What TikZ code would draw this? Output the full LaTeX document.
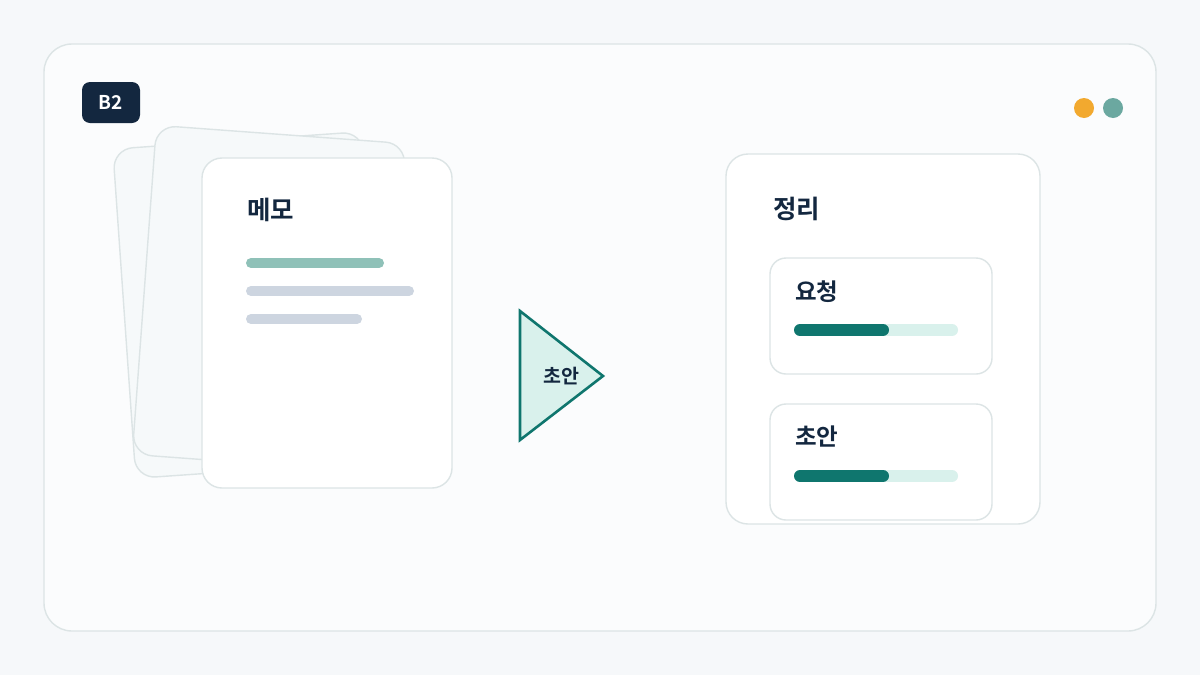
\documentclass[tikz,border=0pt]{standalone}
\usepackage{fontspec}
\setmainfont{Noto Sans CJK KR}
\newfontfamily\krbold{Noto Sans CJK KR Bold}
\definecolor{bgc}{HTML}{F6F8FA}
\definecolor{framefill}{HTML}{FBFCFD}
\definecolor{edge}{HTML}{DCE4E5}
\definecolor{navy}{HTML}{13273F}
\definecolor{tealdark}{HTML}{0F766E}
\definecolor{teallight}{HTML}{D9F1EC}
\definecolor{tealmid}{HTML}{8FC1B8}
\definecolor{grayline}{HTML}{CDD5E0}
\definecolor{orangedot}{HTML}{F2A92F}
\definecolor{tealdot}{HTML}{6BA8A0}
\definecolor{backcard}{HTML}{F6F9FA}
\tikzset{
  card/.style={draw=edge, line width=1.4pt, rounded corners=20pt, fill=white, minimum width=250pt, minimum height=330pt, inner sep=0pt},
  bcard/.style={card, fill=backcard},
  subcard/.style={draw=edge, line width=1.4pt, rounded corners=16pt, fill=white},
  title/.style={text=navy, font=\krbold\fontsize{25.5}{28}\selectfont, anchor=west, inner sep=0pt},
  small/.style={text=navy, font=\krbold\fontsize{23.5}{26}\selectfont, anchor=west, inner sep=0pt},
  bar/.style={line width=10pt, line cap=round},
  pbar/.style={line width=12pt, line cap=round}
}
\begin{document}
\begin{tikzpicture}[x=1pt,y=-1pt]
\fill[bgc] (0,0) rectangle (1200,675);
\useasboundingbox (0,0) rectangle (1200,675);
\draw[edge, fill=framefill, line width=1.4pt, rounded corners=28pt] (44,44) rectangle (1156,631);
% badge
\node[fill=navy, rounded corners=8pt, minimum width=58pt, minimum height=41pt, inner sep=0pt, text=white, font=\krbold\fontsize{19}{22}\selectfont] (badge) at (111,102.5) {B2};
% dots
\fill[orangedot] (1084,108) circle (10pt) coordinate (dotA);
\fill[tealdot] (1113,108) circle (10pt) coordinate (dotB);
% stack
\node[bcard, rotate=4] (back1) at (249,305) {};
\node[bcard, rotate=-4.2] (back2) at (269,299) {};
\node[card] (memo) at (327,323) {};
\node[title] (memot) at (247,210) {메모};
\draw[bar, tealmid] (251,263) -- (379,263);
\draw[bar, grayline] (251,291) -- (409,291);
\draw[bar, grayline] (251,319) -- (357,319);
% triangle
\coordinate (ta) at (520,311);
\coordinate (tb) at (520,440);
\coordinate (tc) at (603,376);
\draw[tealdark, fill=teallight, line width=2.6pt, line join=miter] (ta) -- (tc) -- (tb) -- cycle;
\node[text=navy, font=\krbold\fontsize{19.5}{22}\selectfont, inner sep=0pt] (tri) at (561,376) {초안};
% right panel
\draw[edge, fill=white, line width=1.4pt, rounded corners=22pt] (726,154) rectangle (1040,524);
\node[title] (sumt) at (773,209) {정리};
\draw[subcard] (770,258) rectangle (992,374);
\node[small] (req) at (795,292) {요청};
\draw[pbar, teallight] (800,330) -- (952,330);
\draw[pbar, tealdark] (800,330) -- (883,330);
\draw[subcard] (770,404) rectangle (992,520);
\node[small] (dra) at (795,437) {초안};
\draw[pbar, teallight] (800,476) -- (952,476);
\draw[pbar, tealdark] (800,476) -- (883,476);
\end{tikzpicture}
\end{document}
